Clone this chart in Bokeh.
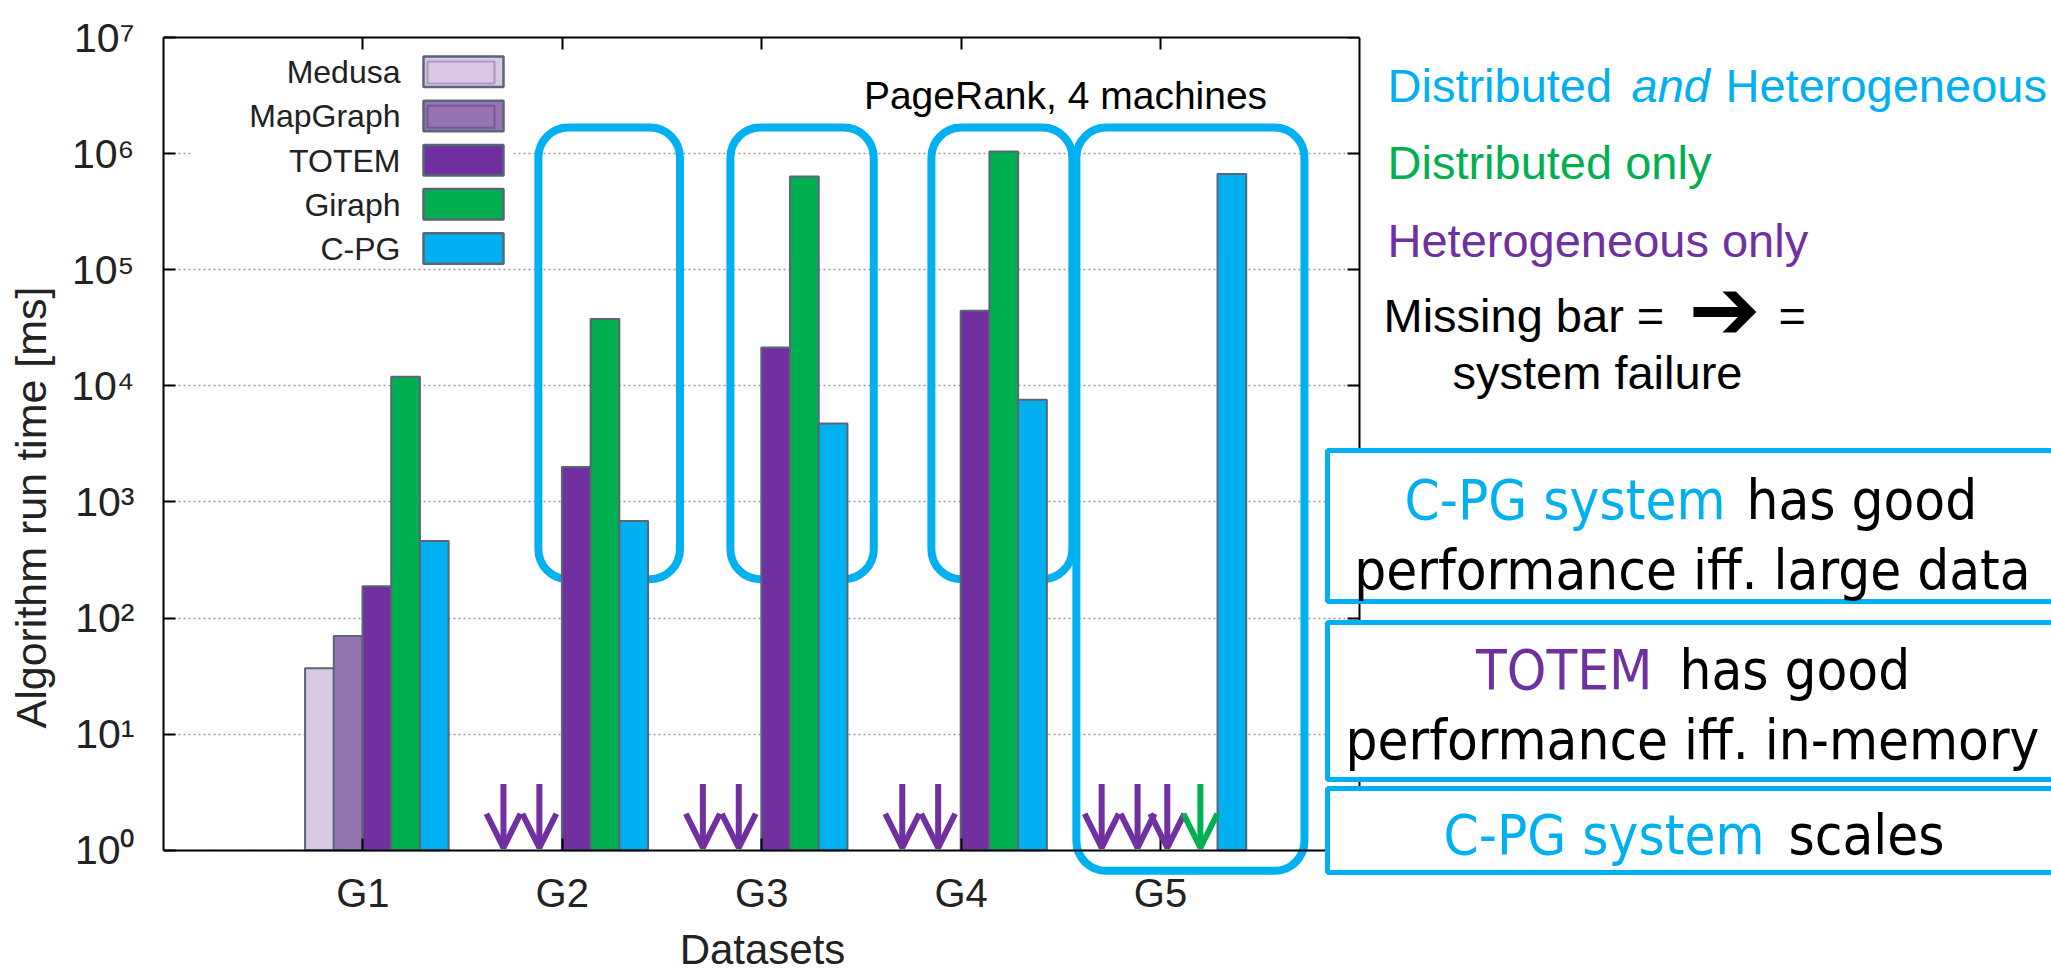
from bokeh.plotting import figure
from bokeh.models import (Range1d, LinearAxis, LogAxis, FixedTicker, BoxAnnotation, Grid,
                          Label, Arrow, OpenHead, CustomJSTickFormatter, ColumnDataSource)
from bokeh.embed import file_html
from bokeh.resources import INLINE

# ---------------- data ----------------
datasets = ["G1", "G2", "G3", "G4", "G5"]
systems = ["Medusa", "MapGraph", "TOTEM", "Giraph", "C-PG"]
medusa_ms = [37, None, None, None, None]
mapgraph_ms = [70, None, None, None, None]
totem_ms = [188, 2000, 21400, 44300, None]
giraph_ms = [11960, 37600, 634000, 1040000, None]
cpg_ms = [461, 686, 4730, 7570, 668000]
series = [medusa_ms, mapgraph_ms, totem_ms, giraph_ms, cpg_ms]
y_ticks = [1, 10, 100, 1e3, 1e4, 1e5, 1e6, 1e7]
y_tick_labels = ["10\u2070", "10\u00b9", "10\u00b2", "10\u00b3", "10\u2074", "10\u2075", "10\u2076", "10\u2077"]

# ---------------- styles / layout ----------------
FILL = ["#D9C8E4", "#9673B1", "#7030A0", "#00B050", "#00B0F0"]
INNER = ["#AE95C6", "#7A579A", None, None, None]
FAIL_COLOR = ["#7030A0", "#7030A0", "#7030A0", "#00B050", None]
BAR_OFFSET = [-0.218, -0.074, 0.070, 0.214, 0.358]
BAR_W = 0.144
FAIL_OFFSET = [-0.295, -0.115, 0.034, 0.200, 0.0]
FAIL_TOP, FAIL_TIP = 3.72, 1.05
EDGE = "#586676"
CYAN, GREEN, PURPLE = "#00B0F0", "#00B050", "#7030A0"
SANS = "Liberation Sans"
BOXFONT = "'DejaVu Sans Condensed', 'DejaVu Sans'"
GROUP_BOXES = [(1.880, 2.590, 1.675e6, 215.8), (2.843, 3.562, 1.675e6, 215.8),
               (3.851, 4.558, 1.675e6, 215.8), (4.578, 5.722, 1.675e6, 0.664)]
BASELINE_FIX = 0.32            # svg text baseline correction (fraction of font size)

W, H = 2051, 977
LEFT, TOP = 163, 37            # top-left corner of the chart frame (px)
PX_PER_X = 199.4               # px per dataset slot
PX_PER_DECADE = 116.1
X_MAX = 6.0                    # chart x extent (axes drawn to here)
x_end = (W - LEFT) / PX_PER_X
y_start = 10 ** (7 - (H - TOP) / PX_PER_DECADE)

p = figure(width=W, height=H, output_backend="svg", toolbar_location=None,
           x_range=Range1d(0, x_end), y_range=Range1d(y_start, 1e7), y_axis_type="log",
           min_border_left=LEFT, min_border_right=0, min_border_top=TOP, min_border_bottom=0)
p.background_fill_color = "white"
p.border_fill_color = "white"
p.outline_line_color = None

yt = FixedTicker(ticks=y_ticks)
xt = FixedTicker(ticks=[i + 1 for i in range(len(datasets))])
p.xgrid.visible = False
yg = p.ygrid[0]
if "cross_bounds" in Grid.properties():
    yg.ticker = yt
    yg.cross_bounds = (0, X_MAX)
    yg.grid_line_color = "#9a9a9a"
    yg.grid_line_dash = "2 3"
    yg.grid_line_width = 1.5
else:
    yg.visible = False
    p.segment(x0=[0] * len(y_ticks), x1=[X_MAX] * len(y_ticks), y0=y_ticks, y1=y_ticks,
              line_color="#9a9a9a", line_dash="2 3", line_width=1.5, level="underlay")

blank = CustomJSTickFormatter(code="return ''")

xa = p.xaxis[0]
xa.fixed_location = 1
xa.bounds = (0, X_MAX)
xa.ticker = xt
xa.major_label_overrides = {i + 1: d for i, d in enumerate(datasets)}
xa.major_label_text_font = SANS
xa.major_label_text_font_size = "40px"
xa.major_label_text_color = "#222222"
xa.major_label_standoff = 21
xa.major_tick_in = 12
xa.major_tick_out = 0
xa.minor_tick_line_color = None
xa.axis_line_width = 2
xa.major_tick_line_width = 2

ya = p.yaxis[0]
ya.bounds = (1, 1e7)
ya.ticker = yt
ya.major_label_overrides = dict(zip(y_ticks, y_tick_labels))
ya.axis_label = "Algorithm run time [ms]"
ya.major_label_text_font = SANS
ya.major_label_text_font_size = "41px"
ya.major_label_text_color = "#222222"
ya.major_label_standoff = 29
ya.axis_label_text_font = SANS
ya.axis_label_text_font_style = "normal"
ya.axis_label_text_font_size = "43px"
ya.axis_label_text_color = "#222222"
ya.axis_label_standoff = 13
ya.major_tick_in = 12
ya.major_tick_out = 0
ya.minor_tick_line_color = None
ya.axis_line_width = 2
ya.major_tick_line_width = 2

top_ax = LinearAxis(ticker=xt, formatter=blank, bounds=(0, X_MAX), major_tick_in=12,
                    major_tick_out=0, minor_tick_line_color=None,
                    major_label_text_font_size="1px", major_label_standoff=0,
                    axis_line_width=2, major_tick_line_width=2)
p.add_layout(top_ax, "above")
right_ax = LogAxis(ticker=yt, formatter=blank, fixed_location=X_MAX, bounds=(1, 1e7),
                   major_tick_in=12, major_tick_out=0, minor_tick_line_color=None,
                   major_label_text_font_size="1px", major_label_standoff=0,
                   axis_line_width=2, major_tick_line_width=2)
p.add_layout(right_ax, "right")

# group highlight boxes (under the bars)
for (l, r, t, b) in GROUP_BOXES:
    p.add_layout(BoxAnnotation(left=l, right=r, top=t, bottom=b, fill_color=None,
                               line_color=CYAN, line_alpha=1.0, line_width=8,
                               border_radius=30, level="underlay"))

# bars
for k, (name, vals) in enumerate(zip(systems, series)):
    xs = [i + 1 + BAR_OFFSET[k] for i, v in enumerate(vals) if v is not None]
    tops = [v for v in vals if v is not None]
    src = ColumnDataSource(dict(x=xs, top=tops))
    p.vbar(x="x", top="top", bottom=1, width=BAR_W, source=src, fill_color=FILL[k],
           line_color=EDGE, line_width=2, name=name)

# missing bars = failure arrows
for k, vals in enumerate(series):
    for i, v in enumerate(vals):
        if v is None:
            x = i + 1 + FAIL_OFFSET[k]
            c = FAIL_COLOR[k]
            p.add_layout(Arrow(x_start=x, x_end=x, y_start=FAIL_TOP, y_end=FAIL_TIP,
                               line_color=c, line_width=6,
                               end=OpenHead(size=34, line_color=c, line_width=6)))


def box(l, t, r, b, fill=None, line=None, lw=2):
    p.add_layout(BoxAnnotation(left=l, right=r, top=t, bottom=b,
                               left_units="canvas", right_units="canvas",
                               top_units="canvas", bottom_units="canvas",
                               fill_color=fill, fill_alpha=1.0, line_color=line,
                               line_alpha=1.0, line_width=lw, level="annotation"))


def text(s, x, y, color="#000000", size=48, font=SANS, align="left", style="normal"):
    p.add_layout(Label(x=x, y=y - BASELINE_FIX * size, x_units="canvas", y_units="canvas",
                       text=s, text_color=color, text_font_size=f"{size}px", text_font=font,
                       text_align=align, text_baseline="alphabetic", text_font_style=style))


# x axis title
text("Datasets", 762, 962, color="#222222", size=42, align="center")

# legend (gnuplot style: label left of swatch)
box(192, 50, 513, 266, fill="white", line=None, lw=0)
for k, name in enumerate(systems):
    top = 56 + k * 44.2
    box(423, top, 503, top + 30.5, fill=FILL[k], line=EDGE, lw=2.5)
    if INNER[k]:
        box(427, top + 5, 494, top + 27, fill=None, line=INNER[k], lw=2)
    text(name, 400, top + 26, color="#222222", size=32, align="right")

# chart title
text("PageRank, 4 machines", 1065, 107, size=39, align="center")

# right-hand notes
text("Distributed", 1387, 100, color=CYAN, size=47)
text("and", 1631, 100, color=CYAN, size=47, style="italic")
text("Heterogeneous", 1725, 100, color=CYAN, size=47)
text("Distributed only", 1387, 177, color=GREEN, size=47)
text("Heterogeneous only", 1387, 255, color=PURPLE, size=47)
text("Missing bar =", 1383, 330, size=47)
text("\u2794", 1724, 336, size=86, font="DejaVu Sans", align="center")
text("=", 1778, 330, size=47)
text("system failure", 1452, 387, size=47)

# conclusion boxes
box(1327, 450, 2080, 601, fill="white", line=CYAN, lw=5)
box(1327, 622, 2080, 779, fill="white", line=CYAN, lw=5)
box(1327, 788, 2080, 872, fill="white", line=CYAN, lw=5)
text("C-PG system", 1725, 517, color=CYAN, size=56, font=BOXFONT, align="right")
text("has good", 1746, 517, size=56, font=BOXFONT)
text("performance iff. large data", 1692, 587, size=56, font=BOXFONT, align="center")
text("TOTEM", 1652, 687, color=PURPLE, size=56, font=BOXFONT, align="right")
text("has good", 1679, 687, size=56, font=BOXFONT)
text("performance iff. in-memory", 1692, 757, size=56, font=BOXFONT, align="center")
text("C-PG system", 1764, 852, color=CYAN, size=56, font=BOXFONT, align="right")
text("scales", 1788, 852, size=56, font=BOXFONT)

open("out.html", "w").write(file_html(p, INLINE))
